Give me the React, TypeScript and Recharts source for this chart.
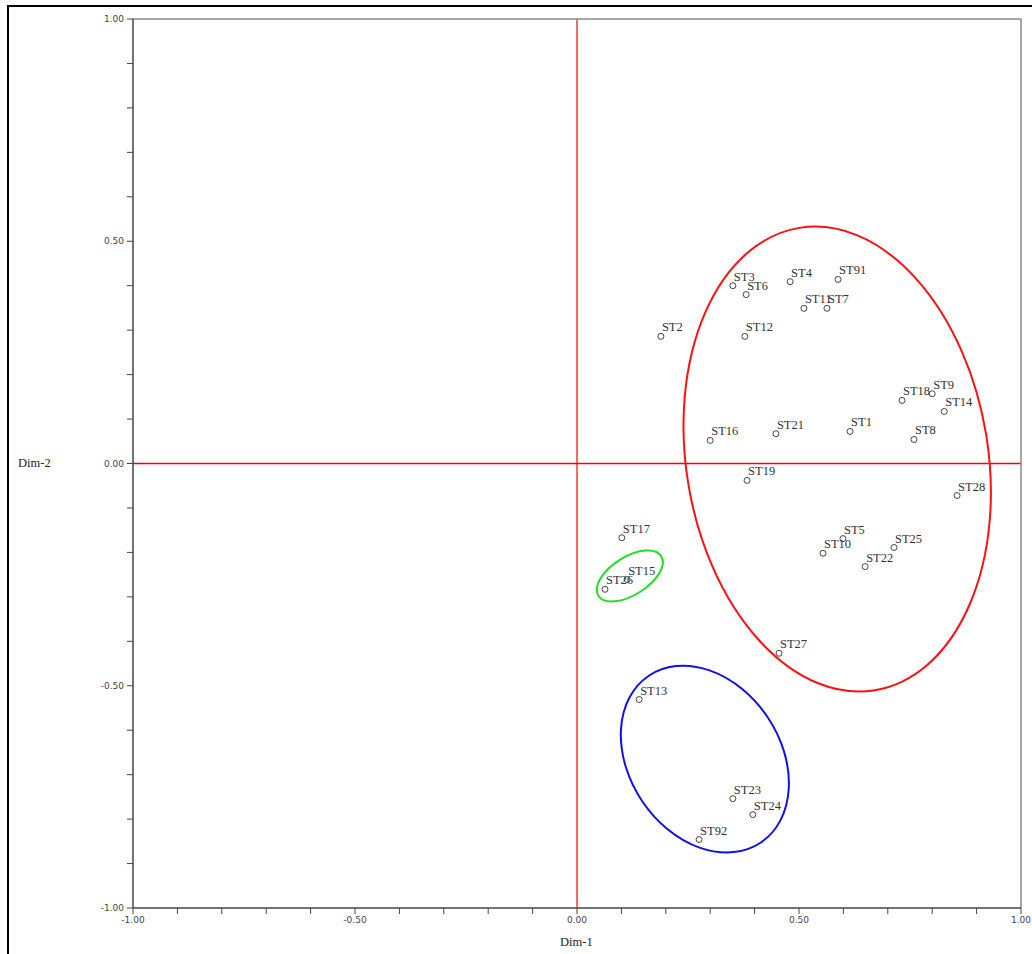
import React from 'react';
import { ScatterChart, Scatter, XAxis, YAxis, ReferenceLine, ReferenceDot } from 'recharts';

const names = ['ST1','ST2','ST3','ST4','ST5','ST6','ST7','ST8','ST9','ST10','ST11','ST12','ST13','ST14','ST15','ST16','ST17','ST18','ST19','ST21','ST22','ST23','ST24','ST25','ST26','ST27','ST28','ST91','ST92'];
const dim1 = [0.615,0.189,0.351,0.480,0.599,0.381,0.563,0.759,0.800,0.554,0.511,0.378,0.140,0.827,0.113,0.300,0.101,0.732,0.383,0.448,0.649,0.351,0.396,0.714,0.063,0.455,0.856,0.588,0.275];
const dim2 = [0.072,0.286,0.400,0.409,-0.169,0.380,0.349,0.054,0.157,-0.202,0.349,0.286,-0.531,0.117,-0.261,0.052,-0.167,0.142,-0.038,0.067,-0.232,-0.754,-0.790,-0.189,-0.283,-0.427,-0.072,0.414,-0.846];

const axisTicks = [-1.0,-0.9,-0.8,-0.7,-0.6,-0.5,-0.4,-0.3,-0.2,-0.1,0,0.1,0.2,0.3,0.4,0.5,0.6,0.7,0.8,0.9,1.0];
const labelledTicks = [-1.0,-0.5,0,0.5,1.0];

// cluster ellipses (data units)
const ellipseNames = ['red','green','blue'];
const ellipseCx = [0.586, 0.119, 0.288];
const ellipseCy = [0.010, -0.253, -0.665];
const ellipseRx = [0.340, 0.0836, 0.170];
const ellipseRy = [0.527, 0.0427, 0.226];
const ellipseAngle = [-9.3, -32.2, -33.9];
const ellipseColor = ['#ff1010', '#22dd22', '#1010ee'];

const W = 1032;
const H = 954;
const M = { top: 19, right: 11, bottom: 16, left: 73 };
const Y_AXIS_W = 60;
const X_AXIS_H = 30;
const plotW = W - M.left - Y_AXIS_W - M.right;
const plotH = H - M.top - M.bottom - X_AXIS_H;
const pxPerX = plotW / 2;
const pxPerY = plotH / 2;

const points = names.map((n, i) => ({ name: n, x: dim1[i], y: dim2[i] }));

const fmt = (v: number) => (labelledTicks.some(t => Math.abs(t - v) < 1e-6) ? v.toFixed(2) : '');

const PointShape = (props: any) => {
  const { cx, cy, payload } = props;
  return (
    <g>
      <circle cx={cx} cy={cy} r={3} fill="#fff" stroke="#444" strokeWidth={1} />
      <text x={cx + 1} y={cy - 5} fontFamily="'Liberation Serif', 'Times New Roman', serif" fontSize={12.5} fill="#333">
        {payload.name}
      </text>
    </g>
  );
};

const tickStyle = { fontFamily: "'DejaVu Sans', sans-serif", fontSize: 9, fill: '#444' };

export default function App() {
  return (
    <div style={{ position: 'absolute', left: 0, top: 0, width: W, height: H, background: '#fff' }}>
      <div style={{ position: 'absolute', left: 7, top: 5, width: W - 7, height: H - 5, borderTop: '2px solid #000', borderLeft: '2px solid #000', boxSizing: 'border-box' }} />
      <div style={{ position: 'absolute', left: 0, top: 0 }}>
        <ScatterChart width={W} height={H} margin={M}>
          <XAxis
            type="number"
            dataKey="x"
            domain={[-1, 1]}
            ticks={axisTicks}
            interval={0}
            tickFormatter={fmt}
            height={X_AXIS_H}
            tickSize={6}
            tickMargin={3}
            allowDataOverflow
            axisLine={{ stroke: '#444', strokeWidth: 1.5 }}
            tickLine={{ stroke: '#444', strokeWidth: 1 }}
            tick={tickStyle}
          />
          <YAxis
            type="number"
            dataKey="y"
            domain={[-1, 1]}
            ticks={axisTicks}
            interval={0}
            tickFormatter={fmt}
            width={Y_AXIS_W}
            tickSize={6}
            tickMargin={3}
            allowDataOverflow
            axisLine={{ stroke: '#444', strokeWidth: 1.5 }}
            tickLine={{ stroke: '#444', strokeWidth: 1 }}
            tick={tickStyle}
          />
          <ReferenceLine segment={[{ x: 0, y: -1 }, { x: 0, y: 1 }]} stroke="#ff0000" strokeWidth={1.2} />
          <ReferenceLine segment={[{ x: -1, y: 0 }, { x: 1, y: 0 }]} stroke="#ff0000" strokeWidth={1.5} />
          <ReferenceLine segment={[{ x: -1, y: 1 }, { x: 1, y: 1 }]} stroke="#888" strokeWidth={1.5} />
          <ReferenceLine segment={[{ x: 1, y: -1 }, { x: 1, y: 1 }]} stroke="#888" strokeWidth={1.5} />
          {ellipseNames.map((n, i) => (
            <ReferenceDot
              key={n}
              x={ellipseCx[i]}
              y={ellipseCy[i]}
              r={1}
              shape={(p: any) => (
                <ellipse
                  cx={p.cx}
                  cy={p.cy}
                  rx={ellipseRx[i] * pxPerX}
                  ry={ellipseRy[i] * pxPerY}
                  transform={`rotate(${ellipseAngle[i]} ${p.cx} ${p.cy})`}
                  fill="none"
                  stroke={ellipseColor[i]}
                  strokeWidth={2}
                />
              )}
            />
          ))}
          <Scatter data={points} isAnimationActive={false} shape={PointShape} />
        </ScatterChart>
      </div>
      <div style={{ position: 'absolute', left: 18, top: 456, fontFamily: "'Liberation Serif', serif", fontSize: 12.5, color: '#222' }}>Dim-2</div>
      <div style={{ position: 'absolute', left: 560, top: 935, fontFamily: "'Liberation Serif', serif", fontSize: 12.5, color: '#222' }}>Dim-1</div>
    </div>
  );
}
